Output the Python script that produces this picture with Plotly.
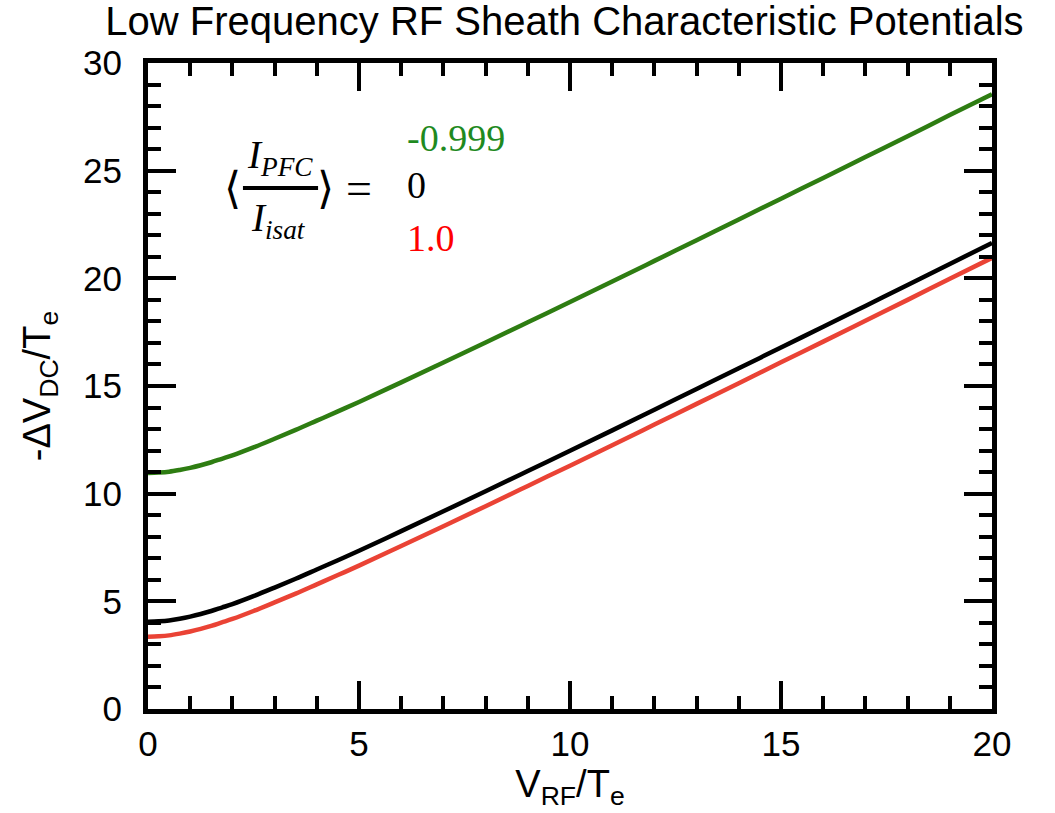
import plotly.graph_objects as go

# Data
x_vals = [0, 0.25, 0.5, 0.75, 1, 1.25, 1.5, 1.75, 2, 2.5, 3, 3.5, 4, 4.5, 5,
          6, 7, 8, 9, 10, 11, 12, 13, 14, 15, 16, 17, 18, 19, 20]
y_green = [10.96, 10.98, 11.02, 11.10, 11.20, 11.32, 11.46, 11.62, 11.78, 12.15, 12.55, 12.96, 13.39, 13.82, 14.26,
           15.17, 16.09, 17.02, 17.96, 18.90, 19.85, 20.81, 21.77, 22.73, 23.70, 24.66, 25.63, 26.60, 27.58, 28.55]
y_black = [4.05, 4.07, 4.11, 4.19, 4.29, 4.41, 4.55, 4.71, 4.87, 5.24, 5.64, 6.05, 6.48, 6.91, 7.35,
           8.26, 9.18, 10.11, 11.05, 11.99, 12.94, 13.90, 14.86, 15.82, 16.79, 17.75, 18.72, 19.69, 20.67, 21.64]
y_red = [3.36, 3.38, 3.42, 3.50, 3.60, 3.72, 3.86, 4.02, 4.18, 4.55, 4.95, 5.36, 5.79, 6.22, 6.66,
         7.57, 8.49, 9.42, 10.36, 11.30, 12.25, 13.21, 14.17, 15.13, 16.10, 17.06, 18.03, 19.00, 19.98, 20.95]
legend_labels = ["-0.999", "0", "1.0"]

GREEN = "#2e7d12"
RED = "#ea4335"
SANS = "Liberation Sans, Arial, sans-serif"
SERIF = "Liberation Serif, DejaVu Serif, serif"

fig = go.Figure()
for ys, col in [(y_green, GREEN), (y_black, "black"), (y_red, RED)]:
    fig.add_trace(go.Scatter(x=x_vals, y=ys, mode="lines",
                             line=dict(color=col, width=4.5, shape="spline", smoothing=1.0),
                             showlegend=False, hoverinfo="skip"))

axis_common = dict(
    showline=True, linecolor="black", linewidth=5, mirror="allticks",
    ticks="inside", ticklen=28, tickwidth=4, tickcolor="black",
    showgrid=False, zeroline=False,
    tickfont=dict(family=SANS, size=35, color="black"),
)
fig.update_xaxes(range=[0, 20], dtick=5, **axis_common,
                 minor=dict(ticks="inside", ticklen=13, tickwidth=4, dtick=1, tickcolor="black"),
                 title=dict(text="V<sub>RF</sub>/T<sub>e</sub>", font=dict(family=SANS, size=38, color="black"),
                            standoff=8))
fig.update_yaxes(range=[0, 30], dtick=5, **axis_common,
                 minor=dict(ticks="inside", ticklen=13, tickwidth=4, dtick=1, tickcolor="black"),
                 ticklabelstandoff=14,
                 title=dict(text="-ΔV<sub>DC</sub>/T<sub>e</sub>", font=dict(family=SANS, size=38, color="black"),
                            standoff=22))

# Legend-like annotation
ann = [
    dict(x=6.09, y=26.52, text=legend_labels[0], color="#1f8a1f"),
    dict(x=6.09, y=24.34, text=legend_labels[1], color="black"),
    dict(x=6.09, y=21.88, text=legend_labels[2], color="#ff0000"),
]
for a in ann:
    fig.add_annotation(x=a["x"], y=a["y"], xref="x", yref="y", text=a["text"],
                       showarrow=False, xanchor="left", yanchor="middle",
                       font=dict(family=SERIF, size=38, color=a["color"]))

fig.add_annotation(x=3.13, y=25.6, xref="x", yref="y", text="<i>I<sub>PFC</sub></i>",
                   showarrow=False, xanchor="center", yanchor="middle",
                   font=dict(family=SERIF, size=39, color="black"))
fig.add_annotation(x=3.10, y=22.7, xref="x", yref="y", text="<i>I<sub>isat</sub></i>",
                   showarrow=False, xanchor="center", yanchor="middle",
                   font=dict(family=SERIF, size=39, color="black"))
fig.add_annotation(x=2.0, y=24.15, xref="x", yref="y", text="⟨",
                   showarrow=False, xanchor="center", yanchor="middle",
                   font=dict(family=SERIF, size=44, color="black"))
fig.add_annotation(x=4.2, y=24.15, xref="x", yref="y", text="⟩",
                   showarrow=False, xanchor="center", yanchor="middle",
                   font=dict(family=SERIF, size=44, color="black"))
fig.add_annotation(x=5.0, y=24.15, xref="x", yref="y", text="=",
                   showarrow=False, xanchor="center", yanchor="middle",
                   font=dict(family=SERIF, size=46, color="black"))
fig.add_shape(type="line", xref="x", yref="y", x0=2.25, x1=4.03, y0=24.2, y1=24.2,
              line=dict(color="black", width=4))

fig.update_layout(
    width=1055, height=813,
    margin=dict(l=148, r=63, t=63, b=104),
    paper_bgcolor="white", plot_bgcolor="white",
    title=dict(text="Low Frequency RF Sheath Characteristic Potentials",
               font=dict(family=SANS, size=40, color="black"),
               x=0.535, xanchor="center", y=0.974, yanchor="middle"),
)

fig.write_html("out.html")
